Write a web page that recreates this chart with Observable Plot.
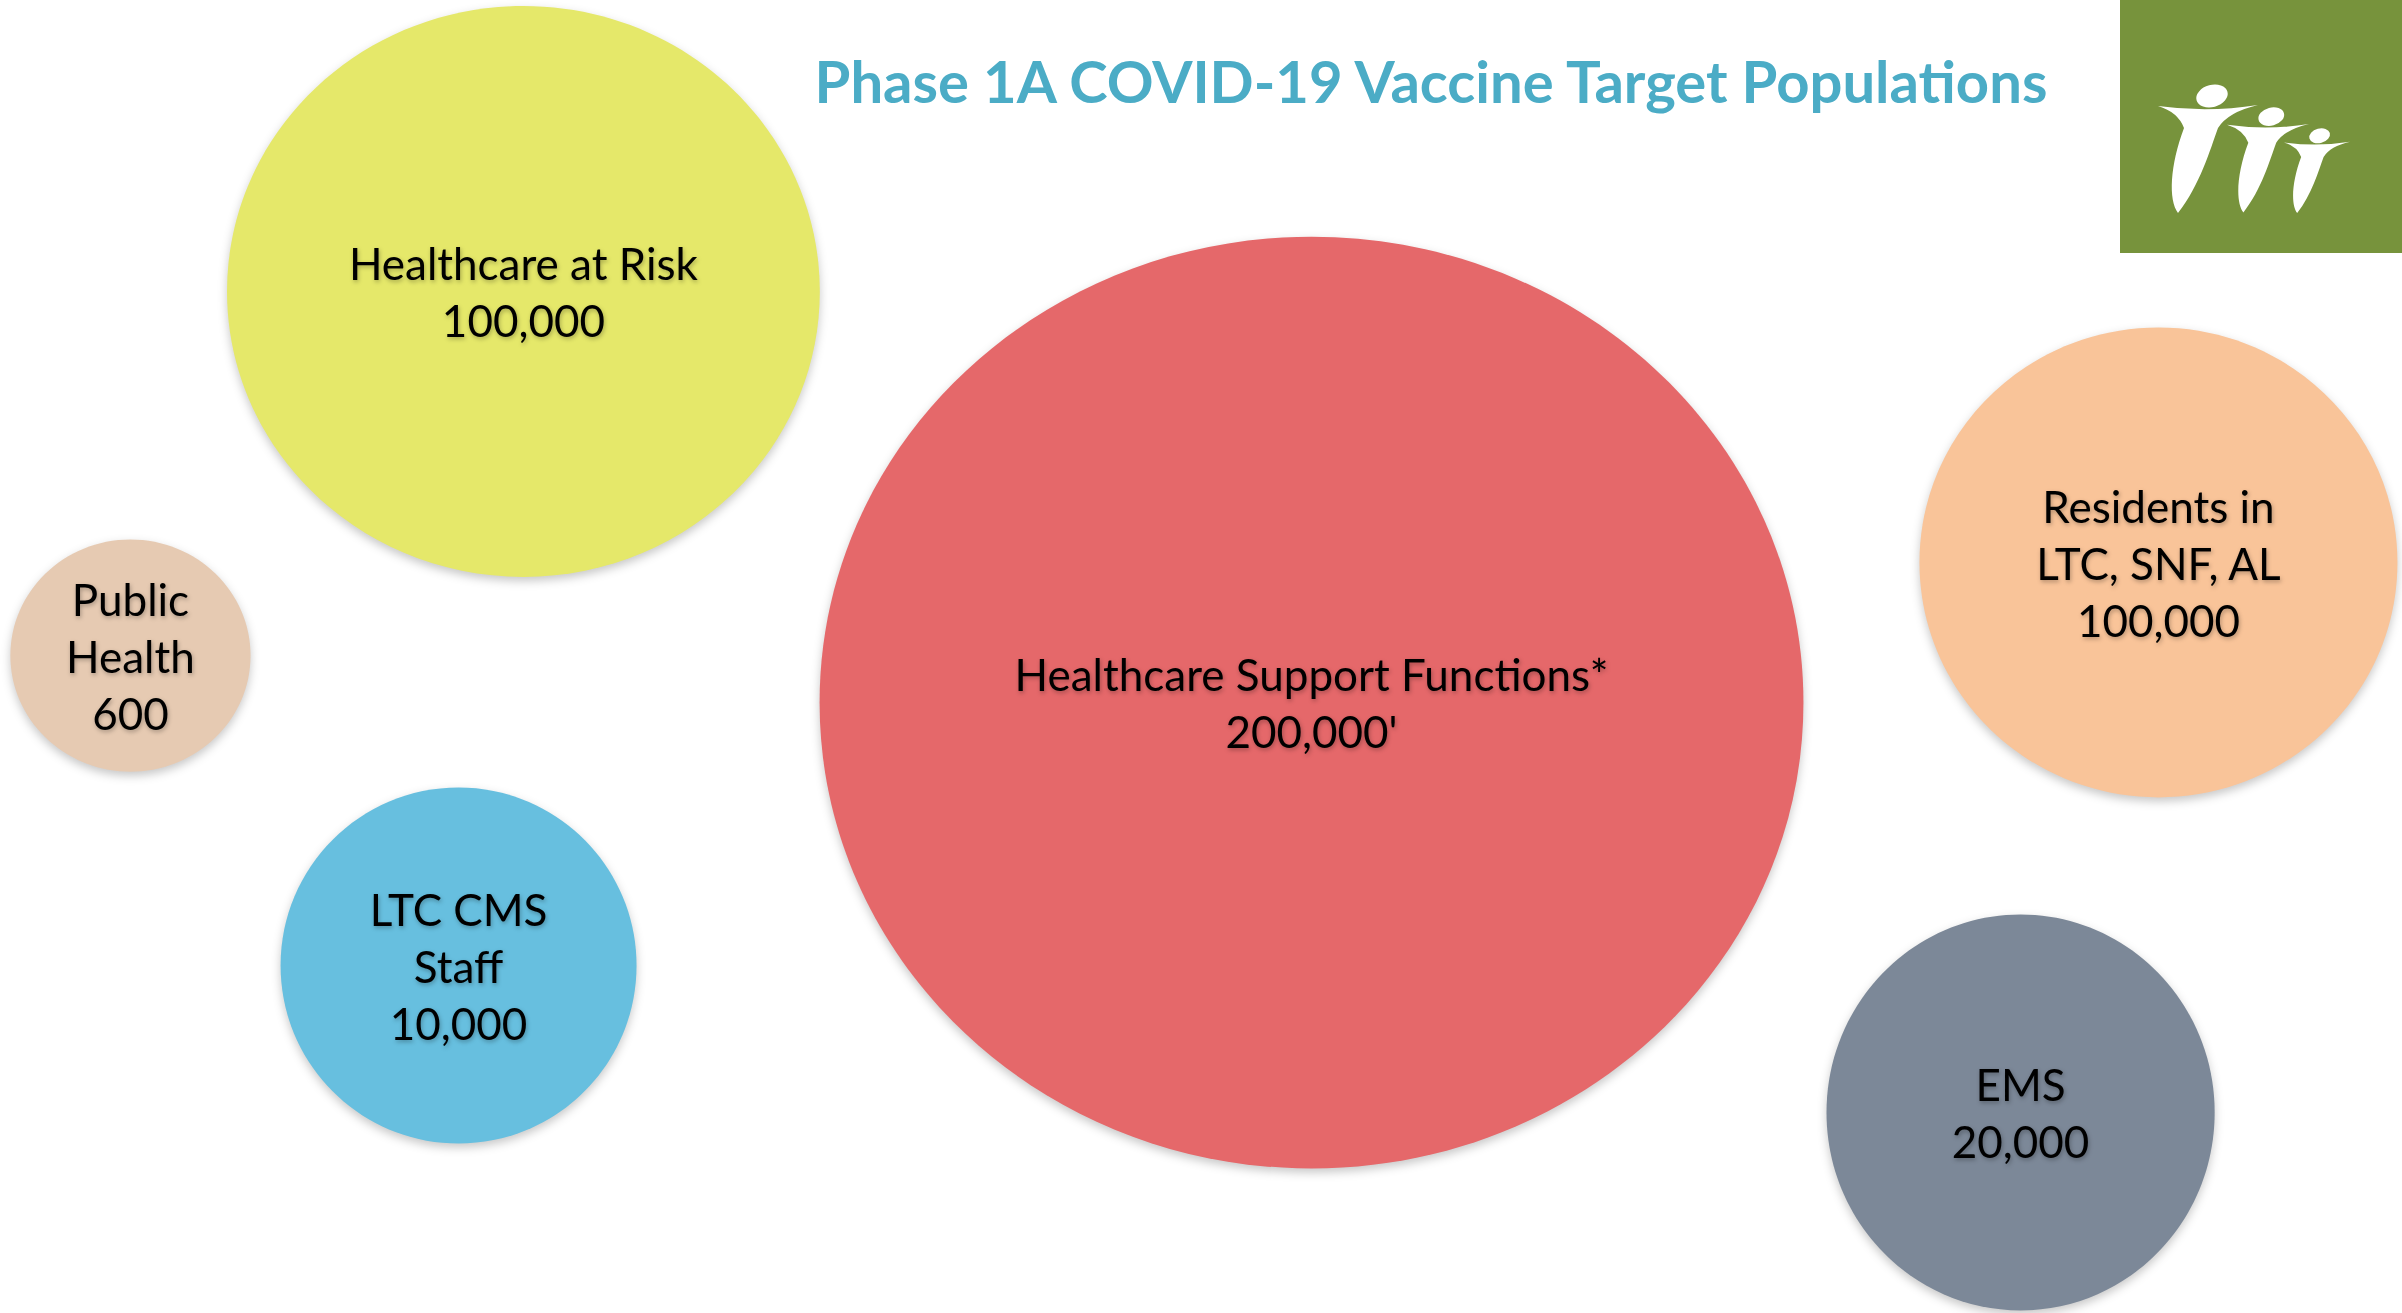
<!DOCTYPE html>
<html>
<head>
<meta charset="utf-8">
<script src="https://cdn.jsdelivr.net/npm/d3@7"></script>
<script src="https://cdn.jsdelivr.net/npm/@observablehq/plot@0.6"></script>
<style>
  html, body { margin: 0; padding: 0; background: #ffffff; }
  #wrap { position: relative; width: 2402px; height: 1313px; overflow: hidden; background: #fff; }
  #chart { position: absolute; left: 0; top: 0; }
  #title {
    position: absolute; left: 631px; top: 52px; width: 1600px; text-align: center;
    font-family: Lato, "Open Sans", sans-serif; font-weight: 700; font-size: 58px; line-height: 1;
    color: #4BACC6; white-space: nowrap;
  }
  #logo { position: absolute; left: 2120px; top: 0; }
  .bubble path { filter: drop-shadow(0px 4px 5px rgba(0,0,0,0.22)); }
  .labels text { filter: drop-shadow(1px 2px 2px rgba(0,0,0,0.28)); }
</style>
</head>
<body>
<div id="wrap">
  <div id="chart"></div>
  <div id="title">Phase 1A COVID-19 Vaccine Target Populations</div>
  <svg id="logo" width="282" height="253" viewBox="0 0 282 253">
    <rect x="0" y="0" width="282" height="253" fill="#77933C"></rect>
    <g fill="#ffffff">
      <g transform="translate(88,116) scale(1)">
        <path d="M -50 -10 Q 0 -3 50 -11 Q 20 -4 10 12 C 2 34 -8 69 -30 97 C -40 84 -38 49 -24 12 Q -30 -4 -50 -10 Z"></path>
        <ellipse cx="4" cy="-20" rx="16" ry="11" transform="rotate(-15 4 -20)"></ellipse>
      </g>
      <g transform="translate(148,133) scale(0.82)">
        <path d="M -50 -10 Q 0 -3 50 -11 Q 20 -4 10 12 C 2 34 -8 69 -30 97 C -40 84 -38 49 -24 12 Q -30 -4 -50 -10 Z"></path>
        <ellipse cx="4" cy="-20" rx="16" ry="11" transform="rotate(-15 4 -20)"></ellipse>
      </g>
      <g transform="translate(197,149) scale(0.66)">
        <path d="M -50 -10 Q 0 -3 50 -11 Q 20 -4 10 12 C 2 34 -8 69 -30 97 C -40 84 -38 49 -24 12 Q -30 -4 -50 -10 Z"></path>
        <ellipse cx="4" cy="-20" rx="16" ry="11" transform="rotate(-15 4 -20)"></ellipse>
      </g>
    </g>
  </svg>
</div>
<script>
// ---- data ----
const categories = ["Healthcare at Risk", "Healthcare Support Functions*", "Residents in\nLTC, SNF, AL", "Public\nHealth", "LTC CMS\nStaff", "EMS"];
const values = [100000, 200000, 100000, 600, 10000, 20000];
const valueNotes = ["", "'", "", "", "", ""];
const colors = ["#E5E86A", "#E5686A", "#F9C499", "#E6CAB2", "#67BFDF", "#7C8898"];
// bubble layout (percent of canvas width / height), horizontal radius (percent of width), vertical/horizontal ratio
const layoutX = [21.77, 54.58, 89.84, 5.41, 19.07, 84.10];
const layoutY = [22.16, 53.47, 42.80, 49.89, 73.50, 84.69];
const layoutR = [12.34, 20.48, 9.95, 5.00, 7.41, 8.08];
const layoutAspect = [0.963, 0.947, 0.983, 0.967, 1.0, 1.02];

const fmt = d3.format(",");
const rows = categories.map((c, i) => ({
  label: c, value: values[i], note: valueNotes[i], color: colors[i],
  x: layoutX[i], y: layoutY[i], r: layoutR[i], aspect: layoutAspect[i]
}));

function ellipseSymbol(aspect) {
  return {
    draw(context, size) {
      const rx = Math.sqrt(size / Math.PI), ry = rx * aspect, k = 0.5522847;
      context.moveTo(rx, 0);
      context.bezierCurveTo(rx, ry * k, rx * k, ry, 0, ry);
      context.bezierCurveTo(-rx * k, ry, -rx, ry * k, -rx, 0);
      context.bezierCurveTo(-rx, -ry * k, -rx * k, -ry, 0, -ry);
      context.bezierCurveTo(rx * k, -ry, rx, -ry * k, rx, 0);
      context.closePath();
    }
  };
}

const W = 2402, H = 1313;
const chart = Plot.plot({
  width: W, height: H,
  margin: 0,
  x: {domain: [0, 100], axis: null},
  y: {domain: [0, 100], axis: null, reverse: true},
  r: {type: "linear", domain: [0, 100], range: [0, W]},
  marks: [
    ...rows.map(d => Plot.dot([d], {
      x: "x", y: "y", r: "r", fill: "color", stroke: "none",
      symbol: ellipseSymbol(d.aspect), className: "bubble"
    })),
    Plot.text(rows, {
      x: "x", y: "y",
      text: d => d.label + "\n" + fmt(d.value) + d.note,
      fontSize: 44, fontFamily: "Lato, 'Open Sans', sans-serif",
      lineHeight: 1.3, lineAnchor: "middle", textAnchor: "middle",
      fill: "#000000", dy: -1, className: "labels"
    })
  ]
});
document.getElementById("chart").appendChild(chart);
</script>
</body>
</html>
